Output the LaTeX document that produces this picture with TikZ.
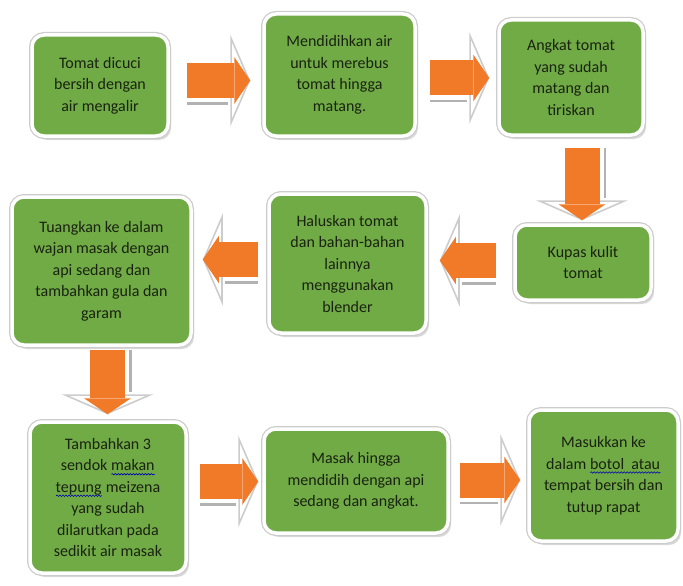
\documentclass[tikz,border=0pt]{standalone}
\usepackage{fontspec}
\setmainfont{Carlito}
\usetikzlibrary{calc,arrows.meta,shadows,decorations.pathmorphing}

\definecolor{leafgreen}{RGB}{112,171,70}
\definecolor{potorange}{RGB}{240,122,40}
\definecolor{inkdark}{RGB}{26,34,18}

% wavy spell-check underline
\newsavebox{\wavebox}
\newcommand{\spellwave}[1]{\sbox{\wavebox}{#1}\rlap{\usebox{\wavebox}}%
  \tikz[baseline=0pt]\draw[sharp corners, fill=none, draw=blue!70!black, line width=0.6pt,
    decorate, decoration={snake, amplitude=0.7pt, segment length=3pt}]
    (0pt,-3.5pt) -- (\the\wd\wavebox,-3.5pt);}

\tikzset{
  stepbox/.style={rounded corners=12pt, fill=leafgreen, draw=white, line width=3.5pt,
    drop shadow={shadow xshift=3pt, shadow yshift=-4pt, opacity=0.3},
    preaction={draw=black!20, line width=6pt},
    text=inkdark, align=center, inner sep=3pt,
    font=\fontsize{16}{21.5}\selectfont},
  arrowrim/.style={draw=black!20, line width=1.6pt,
    -{Triangle[open, length=20pt, width=92pt]}},
  arrowshade/.style={draw=black!30, line width=2.5pt, shorten >=22pt},
  arrowbody/.style={draw=potorange, line width=35pt,
    -{Triangle[length=16pt, width=47pt, line width=0pt]}}
}

\newcommand{\steparrow}[4]{%
  \draw[arrowrim] (#1) -- (#2);
  \draw[arrowshade] ($(#1)+(#3,#4)$) -- ($(#2)+(#3,#4)$);
  \draw[arrowbody] (#1) -- (#2);
}

\begin{document}
\begin{tikzpicture}[x=1pt,y=-1pt]
  \useasboundingbox (0,0) rectangle (683,586);
  % row 1
  \node[stepbox, minimum width=136pt, minimum height=101pt] (tomat) at (100,85.5)
    {Tomat dicuci\\bersih dengan\\air mengalir};
  \node[stepbox, minimum width=151pt, minimum height=122pt] (didih) at (339.5,75)
    {Mendidihkan air\\untuk merebus\\tomat hingga\\matang.};
  \node[stepbox, minimum width=144pt, minimum height=115pt] (angkat) at (571,77.5)
    {Angkat tomat\\yang sudah\\matang dan\\tiriskan};
  % row 2
  \node[stepbox, minimum width=136pt, minimum height=75pt] (kupas) at (583,262.5)
    {Kupas kulit\\tomat};
  \node[stepbox, minimum width=157pt, minimum height=139pt] (halus) at (347.5,263.5)
    {Haluskan tomat\\dan bahan-bahan\\lainnya\\menggunakan\\blender};
  \node[stepbox, minimum width=179pt, minimum height=148pt] (tuang) at (101.5,271)
    {Tuangkan ke dalam\\wajan masak dengan\\api sedang dan\\tambahkan gula dan\\garam};
  % row 3
  \node[stepbox, minimum width=156pt, minimum height=151pt] (tepung) at (108,497.5)
    {Tambahkan 3\\sendok \spellwave{makan}\\\spellwave{tepung} meizena\\yang sudah\\dilarutkan pada\\sedikit air masak};
  \node[stepbox, minimum width=184pt, minimum height=104pt] (masak) at (356,481)
    {Masak hingga\\mendidih dengan api\\sedang dan angkat.};
  \node[stepbox, minimum width=149pt, minimum height=131pt] (botol) at (603.5,475.5)
    {Masukkan ke\\dalam \spellwave{botol\ \ atau}\\tempat bersih dan\\tutup rapat};

  % arrow ends between the boxes
  \coordinate (s1) at ($(tomat.east)+(17,-5)$);
  \coordinate (e1) at ($(s1 -| didih.west)+(-12,0)$);
  \coordinate (s2) at ($(didih.east)+(13,3)$);
  \coordinate (e2) at ($(s2 -| angkat.west)+(-8,0)$);
  \coordinate (s3) at ($(angkat.south)+(11,11)$);
  \coordinate (e3) at ($(s3 |- kupas.north)+(0,-3)$);
  \coordinate (s4) at ($(kupas.west)+(-17,-2)$);
  \coordinate (e4) at ($(s4 -| halus.east)+(12,0)$);
  \coordinate (s5) at ($(halus.west)+(-9,-4)$);
  \coordinate (e5) at ($(s5 -| tuang.east)+(10,0)$);
  \coordinate (s6) at ($(tuang.south)+(6,3)$);
  \coordinate (e6) at ($(s6 |- tepung.north)+(0,-6)$);
  \coordinate (s7) at ($(tepung.east)+(12,-16)$);
  \coordinate (e7) at ($(s7 -| masak.west)+(-4,0)$);
  \coordinate (s8) at ($(masak.east)+(10,-1)$);
  \coordinate (e8) at ($(s8 -| botol.west)+(-7,0)$);

  \foreach \s/\e/\dx/\dy in {s1/e1/0/23, s2/e2/0/23, s3/e3/23/0, s4/e4/0/23,
                             s5/e5/0/23, s6/e6/23/0, s7/e7/0/23, s8/e8/0/23}
    {\steparrow{\s}{\e}{\dx}{\dy}}
\end{tikzpicture}
\end{document}
